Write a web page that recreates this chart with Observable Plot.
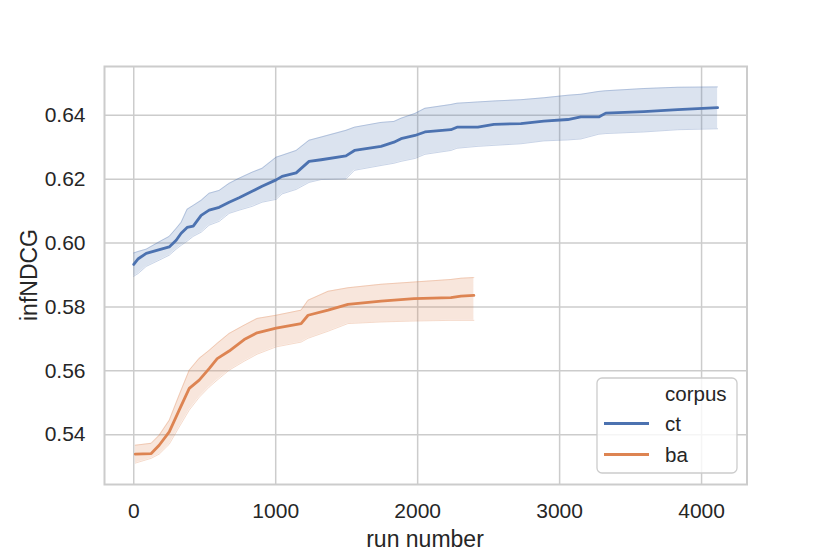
<!DOCTYPE html>
<html><head><meta charset="utf-8">
<script src="https://cdn.jsdelivr.net/npm/d3@7"></script>
<script src="https://cdn.jsdelivr.net/npm/@observablehq/plot@0.6"></script>
<style>body{margin:0;background:#fff} #chart{width:830px;height:554px}</style>
</head><body><div id="chart"></div>
<script>
const xTicks = [0, 1000, 2000, 3000, 4000];
const yTicks = [0.54, 0.56, 0.58, 0.60, 0.62, 0.64];
const corpora = ["ct", "ba"];
const colors = ["#4c72b0", "#dd8452"];

const ctRun  = [0, 32, 88, 200, 250, 299, 334, 376, 419, 475, 531, 602, 672, 742, 834, 904, 1003, 1045, 1144, 1235, 1320, 1495, 1555, 1742, 1833, 1883, 1981, 2051, 2234, 2277, 2424, 2537, 2727, 2889, 3058, 3149, 3276, 3325, 3593, 3832, 4113];
const ctMean = [0.5933, 0.5951, 0.5968, 0.5982, 0.5988, 0.6009, 0.6031, 0.6049, 0.6053, 0.6087, 0.6103, 0.6112, 0.6128, 0.6142, 0.6162, 0.6178, 0.6198, 0.6209, 0.6220, 0.6256, 0.6261, 0.6273, 0.6290, 0.6303, 0.6316, 0.6327, 0.6337, 0.6348, 0.6355, 0.6363, 0.6363, 0.6372, 0.6374, 0.6382, 0.6387, 0.6395, 0.6395, 0.6407, 0.6412, 0.6418, 0.6424];
const ctLow  = [0.5896, 0.5905, 0.5927, 0.5951, 0.5962, 0.5981, 0.5993, 0.6006, 0.6021, 0.6034, 0.6056, 0.6068, 0.6093, 0.6103, 0.6115, 0.6128, 0.6137, 0.6154, 0.6168, 0.6190, 0.6199, 0.6201, 0.6228, 0.6243, 0.6250, 0.6256, 0.6265, 0.6278, 0.6290, 0.6297, 0.6303, 0.6306, 0.6311, 0.6320, 0.6323, 0.6326, 0.6341, 0.6343, 0.6348, 0.6355, 0.6358];
const ctHigh = [0.5969, 0.5974, 0.5981, 0.6009, 0.6021, 0.6046, 0.6065, 0.6106, 0.6118, 0.6134, 0.6156, 0.6165, 0.6187, 0.6203, 0.6222, 0.6234, 0.6269, 0.6275, 0.6290, 0.6322, 0.6332, 0.6353, 0.6363, 0.6378, 0.6381, 0.6391, 0.6406, 0.6422, 0.6434, 0.6438, 0.6442, 0.6445, 0.6449, 0.6455, 0.6463, 0.6466, 0.6475, 0.6477, 0.6484, 0.6488, 0.6489];

const baRun  = [11, 123, 179, 250, 320, 391, 461, 531, 588, 672, 778, 869, 1003, 1179, 1228, 1369, 1509, 1742, 1974, 2234, 2305, 2396];
const baMean = [0.5339, 0.5341, 0.5367, 0.5409, 0.5477, 0.5545, 0.5571, 0.5607, 0.5638, 0.5662, 0.5698, 0.5719, 0.5734, 0.5748, 0.5774, 0.5790, 0.5808, 0.5818, 0.5826, 0.5829, 0.5834, 0.5836];
const baLow  = [0.5311, 0.5326, 0.5339, 0.5370, 0.5424, 0.5477, 0.5517, 0.5549, 0.5571, 0.5602, 0.5630, 0.5652, 0.5675, 0.5690, 0.5702, 0.5724, 0.5748, 0.5753, 0.5756, 0.5758, 0.5758, 0.5758];
const baHigh = [0.5367, 0.5373, 0.5398, 0.5445, 0.5524, 0.5602, 0.5639, 0.5664, 0.5686, 0.5717, 0.5743, 0.5764, 0.5774, 0.5790, 0.5821, 0.5849, 0.5860, 0.5871, 0.5878, 0.5886, 0.5890, 0.5892];

const rows = (name, run, mean, lo, hi) =>
  run.map((r, i) => ({corpus: name, run: r, mean: mean[i], lo: lo[i], hi: hi[i]}));
const data = [
  ...rows("ct", ctRun, ctMean, ctLow, ctHigh),
  ...rows("ba", baRun, baMean, baLow, baHigh)
];

const font = "'Liberation Sans', Arial, Helvetica, sans-serif";
const grid = {stroke: "#cccccc", strokeOpacity: 1, strokeWidth: 1.5};

const chart = Plot.plot({
  width: 830, height: 554,
  marginLeft: 104, marginRight: 83.5, marginTop: 66, marginBottom: 70,
  style: {fontFamily: font, fontSize: "21px", color: "#262626", background: "#fff", overflow: "visible"},
  x: {domain: [-206, 4320]},
  y: {domain: [0.5244, 0.6553]},
  color: {domain: corpora, range: colors},
  marks: [
    Plot.gridX(xTicks, grid),
    Plot.gridY(yTicks, grid),
    Plot.areaY(data, {x: "run", y1: "lo", y2: "hi", fill: "corpus", z: "corpus", fillOpacity: 0.2}),
    Plot.line(data, {x: "run", y: "lo", stroke: "corpus", z: "corpus", strokeOpacity: 0.3, strokeWidth: 1}),
    Plot.line(data, {x: "run", y: "hi", stroke: "corpus", z: "corpus", strokeOpacity: 0.3, strokeWidth: 1}),
    Plot.line(data, {x: "run", y: "mean", stroke: "corpus", z: "corpus", strokeWidth: 2.8}),
    Plot.axisX(xTicks, {tickSize: 0, tickPadding: 19, label: null, tickFormat: d3.format("d"), fontSize: 21}),
    Plot.axisY(yTicks, {tickSize: 0, tickPadding: 19, label: null, tickFormat: d3.format(".2f"), fontSize: 21}),
    Plot.frame({stroke: "#cccccc", strokeWidth: 2})
  ]
});
document.getElementById("chart").appendChild(chart);

const svg = d3.select(chart);
// axis titles
svg.append("text").attr("x", 425).attr("y", 547).attr("text-anchor", "middle")
  .attr("font-family", font).attr("font-size", 23).attr("fill", "#262626").text("run number");
svg.append("text").attr("transform", "translate(37,275) rotate(-90)").attr("text-anchor", "middle")
  .attr("font-family", font).attr("font-size", 23).attr("fill", "#262626").text("infNDCG");

// legend
const lg = svg.append("g").attr("text-anchor", "start");
lg.append("rect").attr("x", 597).attr("y", 378).attr("width", 140).attr("height", 95).attr("rx", 5)
  .attr("fill", "#fff").attr("fill-opacity", 0.8).attr("stroke", "#cccccc").attr("stroke-width", 1.3);
lg.append("text").attr("x", 665).attr("y", 394).attr("dy", "0.35em").attr("text-anchor", "start")
  .attr("font-family", font).attr("font-size", 20.5).attr("fill", "#262626").text("corpus");
corpora.forEach((c, i) => {
  const y = 423.5 + i * 31;
  lg.append("line").attr("x1", 604).attr("x2", 649).attr("y1", y).attr("y2", y)
    .attr("stroke", colors[i]).attr("stroke-width", 2.8);
  lg.append("text").attr("x", 665).attr("y", y).attr("dy", "0.35em").attr("text-anchor", "start")
    .attr("font-family", font).attr("font-size", 20.5).attr("fill", "#262626").text(c);
});
</script>
</body></html>
